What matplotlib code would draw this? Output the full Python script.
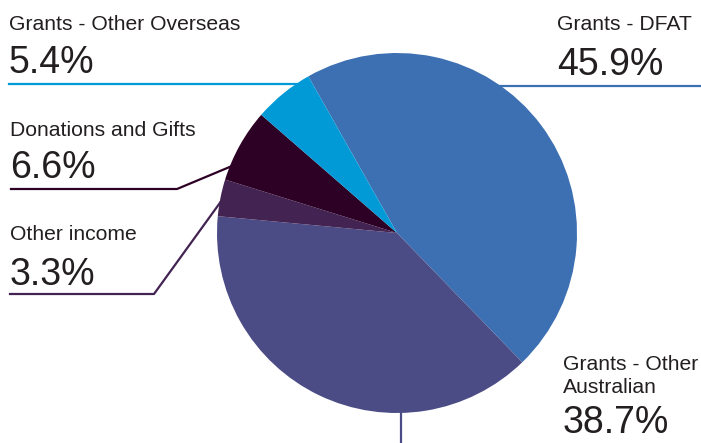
import matplotlib.pyplot as plt

labels = ['Grants - DFAT', 'Grants - Other\nAustralian', 'Other income',
          'Donations and Gifts', 'Grants - Other Overseas']
values = [45.9, 38.7, 3.3, 6.6, 5.4]
pct_text = ['45.9%', '38.7%', '3.3%', '6.6%', '5.4%']
colors = ['#3d70b2', '#4b4b86', '#432351', '#2d0126', '#019ad7']

H = 443
txt = '#231f20'

fig = plt.figure(figsize=(7.01, 4.43), dpi=100)
ax = fig.add_axes([0, 0, 1, 1])
ax.pie(values, colors=colors, startangle=119.5, counterclock=False,
       center=(397, H - 233), radius=180, frame=True,
       wedgeprops=dict(linewidth=0))
ax.set_xlim(0, 701)
ax.set_ylim(0, H)
ax.set_aspect('equal')
ax.axis('off')

def label(x, y_name, y_pct, name, pct, ha='left'):
    ax.text(x, H - y_name, name, fontsize=15.2, family='Liberation Sans',
            color=txt, ha=ha, va='baseline', linespacing=1.3)
    ax.text(x, H - y_pct, pct, fontsize=27, family='Liberation Sans',
            color=txt, ha=ha, va='baseline')

# leader lines
ax.plot([9, 302], [H - 84, H - 84], color=colors[4], lw=1.6)
ax.plot([500, 701], [H - 86, H - 86], color=colors[0], lw=1.6)
ax.plot([11, 177, 232], [H - 189, H - 189, H - 166], color=colors[3], lw=1.6)
ax.plot([10, 154, 222], [H - 294, H - 294, H - 200], color=colors[2], lw=1.6)
ax.plot([401, 401], [H - 412, 0], color=colors[1], lw=1.6)

label(9, 30, 73, labels[4], pct_text[4])
label(557, 30, 75, labels[0], pct_text[0])
label(10, 136, 178, labels[3], pct_text[3])
label(10, 240, 285, labels[2], pct_text[2])
label(563, 393, 433, labels[1], pct_text[1])

fig.savefig('out.png', dpi=100)
